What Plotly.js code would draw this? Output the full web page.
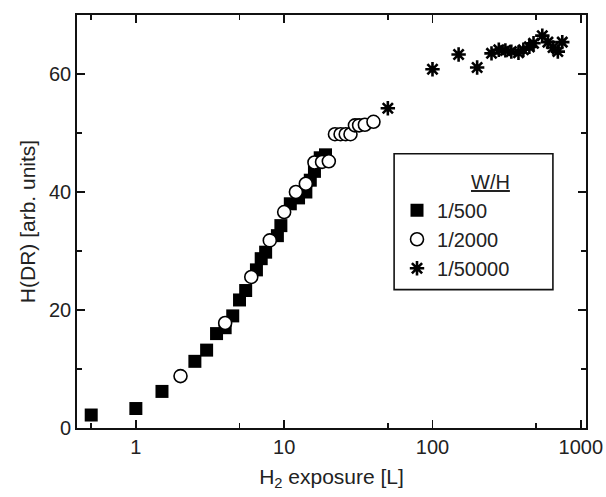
<!DOCTYPE html>
<html>
<head>
<meta charset="utf-8">
<script src="https://cdn.plot.ly/plotly-3.0.1.min.js"></script>
<style>html,body{margin:0;padding:0;background:#fff;}#chart{width:606px;height:497px;}</style>
</head>
<body>
<div id="chart"></div>
<script>
// 1/500 (filled squares)
var sqX = [0.5, 1, 1.5, 2.5, 3, 3.5, 4, 4.5, 5, 5.5, 6.5, 7, 7.5, 9, 9.5, 11, 12.5, 14, 15, 16, 17.5, 19];
var sqY = [2.2, 3.3, 6.2, 11.3, 13.2, 16.0, 17.0, 19.0, 21.7, 23.3, 26.8, 28.7, 29.8, 32.6, 34.3, 38.0, 39.0, 40.0, 42.0, 43.5, 45.8, 46.3];
// 1/2000 (open circles)
var ciX = [2, 4, 6, 8, 10, 12, 14, 16, 18, 20, 22, 24, 26, 28, 30, 32, 35, 40];
var ciY = [8.8, 17.8, 25.6, 31.8, 36.6, 40.0, 41.4, 45.0, 45.1, 45.2, 49.8, 49.8, 49.8, 49.8, 51.3, 51.3, 51.4, 51.9];
// 1/50000 (asterisks)
var stX = [50, 100, 150, 200, 250, 280, 310, 340, 380, 410, 450, 480, 550, 600, 650, 700, 750];
var stY = [54.2, 60.8, 63.3, 61.1, 63.5, 64.1, 64.0, 63.8, 63.6, 64.1, 64.6, 65.2, 66.5, 65.4, 64.5, 63.8, 65.4];

var xTicks = [1, 10, 100, 1000];
var xTickText = ['1', '10', '100', '1000'];
var xMinor = [0.5, 5, 50, 500];
var seriesNames = ['1/500', '1/2000', '1/50000'];
var legendTitle = 'W/H';

var FONT = 'Liberation Sans, Arial, sans-serif';

var traces = [
  {x: sqX, y: sqY, type: 'scatter', mode: 'markers', name: seriesNames[0], legendgroup: 'a',
   marker: {symbol: 'square', size: 13, color: '#000', line: {width: 0}}},
  {x: ciX, y: ciY, type: 'scatter', mode: 'markers', name: seriesNames[1], legendgroup: 'b',
   marker: {symbol: 'circle', size: 13, color: '#fff', line: {width: 1.6, color: '#000'}}},
  {x: stX, y: stY, type: 'scatter', mode: 'markers', name: seriesNames[2], legendgroup: 'c',
   marker: {symbol: 'asterisk-open', size: 12, color: '#000', line: {width: 2.6, color: '#000'}}}
];

var layout = {
  width: 606, height: 497,
  margin: {l: 77, r: 20, t: 15, b: 69},
  paper_bgcolor: '#fff', plot_bgcolor: '#fff',
  font: {family: FONT, size: 20, color: '#222'},
  showlegend: true,
  legend: {
    x: 0.6287, y: 0.5745, xanchor: 'left', yanchor: 'top',
    bgcolor: 'rgba(0,0,0,0)', borderwidth: 0,
    font: {family: FONT, size: 20, color: '#222'},
    itemsizing: 'trace', tracegroupgap: 0
  },
  shapes: [{
    type: 'rect', xref: 'paper', yref: 'paper',
    x0: 0.623, x1: 0.935, y0: 0.335, y1: 0.664,
    line: {color: '#111', width: 1.6}, fillcolor: '#fff', layer: 'above'
  }],
  annotations: [{
    text: legendTitle, xref: 'paper', yref: 'paper', x: 0.813, y: 0.596,
    xanchor: 'center', yanchor: 'middle', showarrow: false,
    font: {family: FONT, size: 20, color: '#222', lineposition: 'under'}
  }],
  xaxis: {
    type: 'log', range: [Math.log10(0.401), Math.log10(1084)],
    tickvals: xTicks, ticktext: xTickText,
    ticks: 'inside', ticklen: 8, tickwidth: 1.8, tickcolor: '#111',
    showline: true, linewidth: 1.8, linecolor: '#111', mirror: 'ticks',
    showgrid: false, zeroline: false,
    minor: {tickvals: xMinor, ticks: 'inside', ticklen: 5, tickwidth: 1.5, tickcolor: '#111', showgrid: false},
    tickfont: {family: FONT, size: 20, color: '#222'},
    title: {text: 'H<sub>2</sub> exposure [L]', font: {family: FONT, size: 21, color: '#222'}, standoff: 12}
  },
  yaxis: {
    range: [0, 70], tickvals: [0, 20, 40, 60],
    ticks: 'inside', ticklen: 8, tickwidth: 1.8, tickcolor: '#111',
    showline: true, linewidth: 1.8, linecolor: '#111', mirror: 'ticks',
    showgrid: false, zeroline: false,
    minor: {dtick: 10, ticks: 'inside', ticklen: 5, tickwidth: 1.5, tickcolor: '#111', showgrid: false},
    tickfont: {family: FONT, size: 20, color: '#222'},
    title: {text: 'H(DR) [arb. units]', font: {family: FONT, size: 21, color: '#222'}, standoff: 8}
  }
};

Plotly.newPlot('chart', traces, layout, {displayModeBar: false, staticPlot: true});
</script>
</body>
</html>
